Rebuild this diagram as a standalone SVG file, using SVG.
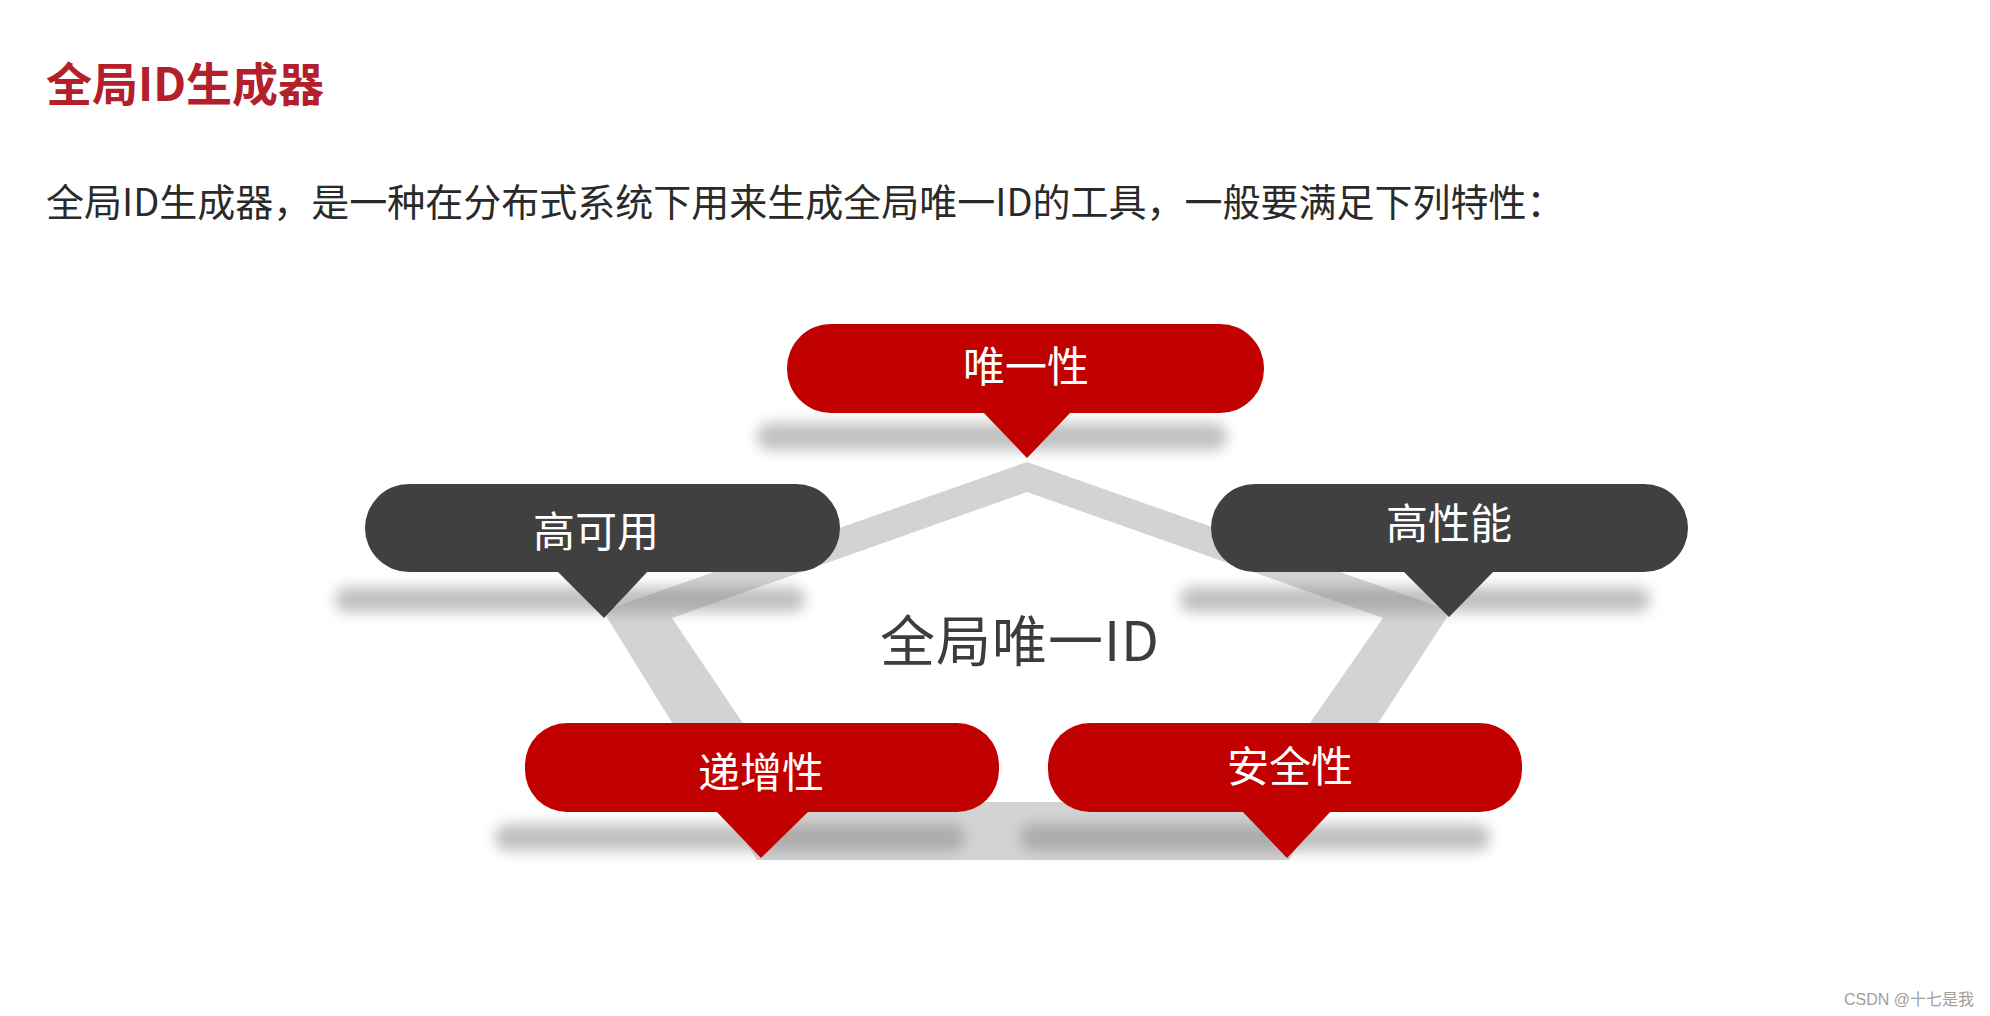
<svg xmlns="http://www.w3.org/2000/svg" width="1990" height="1016" viewBox="0 0 1990 1016">
<defs>
<filter id="blur" x="-20%" y="-200%" width="140%" height="500%">
<feGaussianBlur stdDeviation="7"/>
</filter>
<style>
.cjk{font-family:"Noto Sans CJK SC","Noto Sans",sans-serif;}
.title{font-size:46px;font-weight:bold;fill:#b3202c;}
.sub{font-size:38px;fill:#2a2a2a;}
.center{font-size:55px;fill:#3c3c3c;letter-spacing:1px;}
.lbl{font-size:42px;fill:#ffffff;text-anchor:middle;}
.red{fill:#c10000;}
.dark{fill:#404040;}
.shadow{fill:#8c8c8c;opacity:0.55;filter:url(#blur);}
.ring{fill:#d3d3d3;fill-rule:evenodd;}
.wm{font-family:"Liberation Sans","Noto Sans CJK SC",sans-serif;font-size:16px;fill:#a0a0a0;text-anchor:end;}
</style>
</defs>
<rect width="1990" height="1016" fill="#ffffff"/>
<text class="cjk title" x="46" y="101">全局ID生成器</text>
<text class="cjk sub" x="46" y="216">全局ID生成器，是一种在分布式系统下用来生成全局唯一ID的工具，一般要满足下列特性：</text>

<g id="connectors">
<path class="ring" d="M1027,462 L1451,611 L1289,860 L757,860 L603,611 Z M1027,492 L672,618 L796,802 L1255,802 L1383,618 Z"/>
</g>

<text class="cjk center" x="880" y="661">全局唯一ID</text>

<g id="node-unique">
<rect class="shadow" x="757" y="423" width="470" height="27" rx="13"/>
<rect class="red" x="787" y="324" width="477" height="89" rx="44"/>
<polygon class="red" points="982,411 1072,411 1027,458"/>
<text class="cjk lbl" x="1026" y="382">唯一性</text>
</g>

<g id="node-ha">
<rect class="shadow" x="335" y="587" width="470" height="25" rx="12"/>
<rect class="dark" x="365" y="484" width="475" height="88" rx="44"/>
<polygon class="dark" points="556,570 649,570 604,618"/>
<text class="cjk lbl" x="596" y="547">高可用</text>
</g>

<g id="node-hp">
<rect class="shadow" x="1180" y="587" width="470" height="25" rx="12"/>
<rect class="dark" x="1211" y="484" width="477" height="88" rx="44"/>
<polygon class="dark" points="1402,570 1495,570 1449,617"/>
<text class="cjk lbl" x="1449" y="539">高性能</text>
</g>

<g id="node-inc">
<rect class="shadow" x="495" y="824" width="470" height="27" rx="13"/>
<rect class="red" x="525" y="723" width="474" height="89" rx="42"/>
<polygon class="red" points="715,810 810,810 761,858"/>
<text class="cjk lbl" x="761" y="788">递增性</text>
</g>

<g id="node-sec">
<rect class="shadow" x="1020" y="824" width="470" height="27" rx="13"/>
<rect class="red" x="1048" y="723" width="474" height="89" rx="42"/>
<polygon class="red" points="1241,810 1332,810 1287,858"/>
<text class="cjk lbl" x="1290" y="782">安全性</text>
</g>

<text class="wm" x="1974" y="1005">CSDN @十七是我</text>
</svg>
